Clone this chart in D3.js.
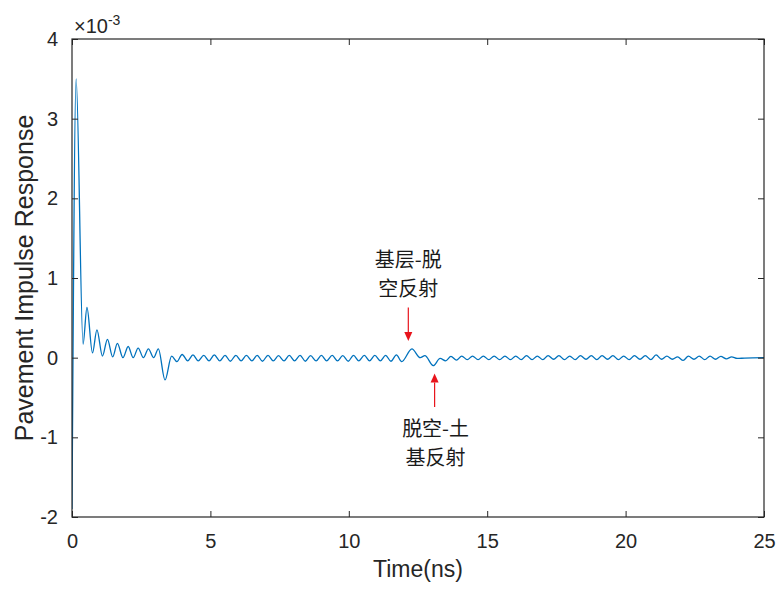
<!DOCTYPE html>
<html><head><meta charset="utf-8">
<script src="https://cdn.jsdelivr.net/npm/d3@7"></script>
<style>body{margin:0;background:#fff}svg{display:block}</style>
</head><body>
<svg id="c" width="780" height="589"></svg>
<script>
// ---- data (values in units of 1e-3) ----
const timesA = [0, 0.15, 0.40, 0.54, 0.74, 0.90, 1.10, 1.28, 1.47, 1.64, 1.84, 2.03, 2.21, 2.39, 2.58, 2.76, 2.95, 3.12, 3.36, 3.60];
const valuesA = [-1.9, 3.5, 0.17, 0.63, 0.06, 0.35, 0.02, 0.23, 0.01, 0.18, 0.0, 0.14, 0.0, 0.12, 0.0, 0.11, 0.0, 0.11, -0.28, 0.02];
const timesB = [3.79, 3.98, 4.18, 4.37, 4.56, 4.76, 4.95, 5.14, 5.34, 5.53,
  5.72, 5.92, 6.11, 6.30, 6.50, 6.69, 6.88, 7.08, 7.27, 7.46,
  7.66, 7.85, 8.04, 8.24, 8.43, 8.62, 8.82, 9.01, 9.20, 9.40,
  9.59, 9.78, 9.98, 10.17, 10.36, 10.56, 10.75, 10.94, 11.14, 11.33,
  11.52, 11.72, 11.91];
const valuesB = [-0.05, 0.04, -0.04, 0.035, -0.04, 0.03, -0.04, 0.035, -0.04, 0.03,
  -0.045, 0.03, -0.04, 0.03, -0.04, 0.03, -0.045, 0.03, -0.04, 0.025,
  -0.04, 0.03, -0.04, 0.03, -0.045, 0.025, -0.04, 0.03, -0.04, 0.03,
  -0.04, 0.025, -0.045, 0.03, -0.04, 0.03, -0.04, 0.03, -0.04, 0.03,
  -0.045, 0.035, -0.05];
const timesC = [12.28, 12.58, 12.75, 13.05];
const valuesC = [0.11, 0.0, 0.025, -0.10];
const timesD = [13.30, 13.50, 13.69, 13.89, 14.08, 14.28, 14.47, 14.67, 14.86, 15.06,
  15.25, 15.45, 15.64, 15.84, 16.03, 16.23, 16.42, 16.62, 16.81, 17.01,
  17.20, 17.40, 17.59, 17.79, 17.98, 18.18, 18.37, 18.57, 18.76, 18.96,
  19.15, 19.35, 19.54, 19.74, 19.93, 20.13, 20.32, 20.52, 20.71, 20.91,
  21.10, 21.30, 21.49, 21.69, 21.88, 22.08, 22.27, 22.47, 22.66, 22.86,
  23.05, 23.25, 23.44, 23.64, 23.83, 24.03, 24.30, 25.0];
const valuesD = [-0.01, -0.04, 0.015, -0.03, 0.02, -0.025, 0.02, -0.025, 0.02, -0.025,
  0.02, -0.025, 0.02, -0.025, 0.02, -0.025, 0.025, -0.025, 0.02, -0.025,
  0.025, -0.02, 0.025, -0.025, 0.02, -0.025, 0.025, -0.02, 0.025, -0.025,
  0.025, -0.02, 0.025, -0.025, 0.02, -0.025, 0.025, -0.02, 0.025, -0.025,
  0.035, -0.02, 0.02, -0.02, 0.01, -0.035, 0.02, -0.02, 0.02, -0.025,
  0.02, -0.02, 0.015, -0.015, 0.01, -0.01, -0.005, 0.0];

const xTicks = [0, 5, 10, 15, 20, 25];
const yTicks = [-2, -1, 0, 1, 2, 3, 4];
const xLabel = "Time(ns)";
const yLabel = "Pavement Impulse Response";
const annotations = [
  {lines: ["基层-脱", "空反射"], t: 12.15, tail: 0.63, tip: 0.21, dir: "down"},
  {lines: ["脱空-土", "基反射"], t: 13.1, tail: -0.62, tip: -0.20, dir: "up"}
];

// ---- build ----
const times = timesA.concat(timesB, timesC, timesD);
const values = valuesA.concat(valuesB, valuesC, valuesD);
const data = times.map((t, i) => ({t, v: values[i]}));

const svg = d3.select("#c");
const L = 72, R = 764, T = 39, B = 517;
const x = d3.scaleLinear().domain([0, 25]).range([L, R]);
const y = d3.scaleLinear().domain([-2, 4]).range([B, T]);
const axisColor = "#262626";
const font = "'Liberation Sans', Arial, Helvetica, sans-serif";

svg.append("rect").attr("width", 780).attr("height", 589).attr("fill", "#fff");

svg.append("defs").append("clipPath").attr("id", "clip")
  .append("rect").attr("x", L).attr("y", T).attr("width", R - L).attr("height", B - T);

// line
const line = d3.line().x(d => x(d.t)).y(d => y(d.v)).curve(d3.curveMonotoneX);
svg.append("path").datum(data)
  .attr("clip-path", "url(#clip)")
  .attr("fill", "none").attr("stroke", "#0072BD").attr("stroke-width", 1.3)
  .attr("stroke-linejoin", "round")
  .attr("d", line);

// axes
function styleAxis(g) {
  g.select(".domain").remove();
  g.selectAll(".tick line").attr("stroke", axisColor).attr("stroke-width", 1);
  g.selectAll(".tick text").attr("fill", axisColor).attr("font-family", font).attr("font-size", 20);
}
const fmt = d => String(d);
svg.append("g").attr("transform", `translate(0,${B})`)
  .call(d3.axisBottom(x).tickValues(xTicks).tickFormat(fmt).tickSizeInner(-6).tickSizeOuter(0).tickPadding(17))
  .call(styleAxis);
svg.append("g").attr("transform", `translate(0,${T})`)
  .call(d3.axisTop(x).tickValues(xTicks).tickFormat("").tickSizeInner(-6).tickSizeOuter(0))
  .call(styleAxis);
svg.append("g").attr("transform", `translate(${L},0)`)
  .call(d3.axisLeft(y).tickValues(yTicks).tickFormat(fmt).tickSizeInner(-6).tickSizeOuter(0).tickPadding(14))
  .call(styleAxis);
svg.append("g").attr("transform", `translate(${R},0)`)
  .call(d3.axisRight(y).tickValues(yTicks).tickFormat("").tickSizeInner(-6).tickSizeOuter(0))
  .call(styleAxis);

// box
svg.append("rect").attr("x", L).attr("y", T).attr("width", R - L).attr("height", B - T)
  .attr("fill", "none").attr("stroke", axisColor).attr("stroke-width", 1.2);

// exponent
const ex = svg.append("text").attr("x", L + 2).attr("y", 33)
  .attr("font-family", font).attr("font-size", 20).attr("fill", axisColor);
ex.append("tspan").text("×10");
ex.append("tspan").attr("font-size", 14).attr("dy", -8).text("-3");

// labels
svg.append("text").attr("x", (L + R) / 2).attr("y", 577).attr("text-anchor", "middle")
  .attr("font-family", font).attr("font-size", 23).attr("fill", axisColor).text(xLabel);
svg.append("text").attr("transform", `translate(33,${(T + B) / 2}) rotate(-90)`)
  .attr("text-anchor", "middle")
  .attr("font-family", font).attr("font-size", 25).attr("fill", axisColor).text(yLabel);

// annotations
const cjk = "'Noto Sans CJK SC', 'Noto Sans CJK JP', sans-serif";
annotations.forEach(a => {
  const ax = x(a.t), yTail = y(a.tail), yTip = y(a.tip);
  const s = a.dir === "down" ? 1 : -1;
  const head = 9;
  svg.append("line").attr("x1", ax).attr("x2", ax).attr("y1", yTail).attr("y2", yTip - s * head)
    .attr("stroke", "#E8141C").attr("stroke-width", 1.2);
  svg.append("path")
    .attr("d", `M${ax},${yTip} L${ax - 4},${yTip - s * head} L${ax + 4},${yTip - s * head} Z`)
    .attr("fill", "#E8141C");
  const baseY = a.dir === "down" ? yTail - 40 : yTail + 29;
  a.lines.forEach((txt, i) => {
    svg.append("text").attr("x", ax + (a.dir === "up" ? 1 : 0)).attr("y", baseY + i * 29)
      .attr("text-anchor", "middle").attr("font-family", cjk).attr("font-size", 20)
      .attr("fill", "#1a1a1a").text(txt);
  });
});
</script>
</body></html>
